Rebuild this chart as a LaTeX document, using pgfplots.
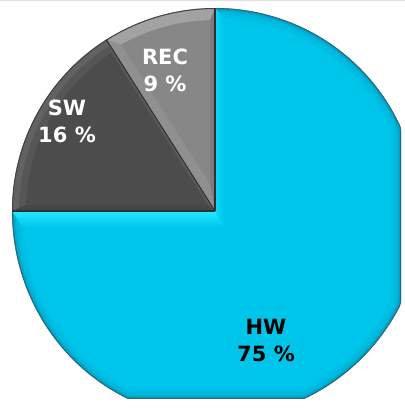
\documentclass[border=0pt]{standalone}
\usepackage{pgfplots}
\usepackage{pgfplotstable}
\usepackage{fontspec}
\setmainfont{DejaVu Sans}
\pgfplotsset{compat=1.18}

% slice colours: base, bevel bands and rim
\definecolor{hwrim}{RGB}{0,150,186}
\definecolor{hwstepA}{RGB}{0,170,207}
\definecolor{hwstepB}{RGB}{0,183,221}
\definecolor{hwstepC}{RGB}{0,191,229}
\definecolor{hwbase}{RGB}{0,197,235}
\definecolor{hwbright}{RGB}{36,234,255}
\definecolor{hwvert}{RGB}{14,216,250}
\definecolor{hwedge}{RGB}{50,105,120}
\definecolor{swband}{RGB}{98,98,98}
\definecolor{swmid}{RGB}{86,86,86}
\definecolor{swbase}{RGB}{76,76,76}
\definecolor{swfloor}{RGB}{70,70,70}
\definecolor{recband}{RGB}{162,162,162}
\definecolor{recbase}{RGB}{135,135,135}
\definecolor{recleft}{RGB}{144,144,144}
\definecolor{recright}{RGB}{124,124,124}
\definecolor{greyedge}{RGB}{66,66,66}
\definecolor{splitline}{RGB}{48,48,48}

\pgfplotstableread{
part share
HW 75
SW 16
REC 9
}\sharetable

% pie outline: radii to the right (upper, lower half), left, up and down,
% and the cut at right and bottom
\def\pieRru{204}\def\pieRrd{208}\def\pieRl{203}\def\pieRu{203}\def\pieRd{208}
\def\pieCx{186}\def\pieCy{188}
\def\pieR{205}

% inner corner and arc angles of a wedge (edges at #1 and #2, clockwise),
% its edges moved inwards by #3 and #4 and its arc by #5
\newcommand\piegeom[5]{%
  \pgfmathsetmacro\nax{cos(#1-90)}\pgfmathsetmacro\nay{sin(#1-90)}%
  \pgfmathsetmacro\nbx{cos(#2+90)}\pgfmathsetmacro\nby{sin(#2+90)}%
  \pgfmathsetmacro\ndet{\nax*\nby-\nay*\nbx}%
  \pgfmathsetmacro\pcx{(#3*\nby-#4*\nay)/\ndet}%
  \pgfmathsetmacro\pcy{(\nax*#4-\nbx*#3)/\ndet}%
  \pgfmathsetmacro\ahi{#1-asin(#3/(\pieR-#5))}%
  \pgfmathsetmacro\alo{#2+asin(#4/(\pieR-#5))}%
}
% filled wedge
\newcommand\pieslice[6]{%
  \piegeom{#1}{#2}{#3}{#4}{#5}%
  \edef\piecmd{\noexpand\addplot[#6, draw=none, domain=\alo:\ahi, samples=160]
    ({px(x,#5)},{py(x,#5)}) -- (axis cs:\pcx,\pcy) -- cycle;}%
  \piecmd}
% bevel band along the first edge of a wedge
\newcommand\piebandhi[6]{%
  \piegeom{#1}{#2}{#3}{#4}{#5}%
  \pgfmathsetmacro\ox{px(#1,0)}\pgfmathsetmacro\oy{py(#1,0)}%
  \pgfmathsetmacro\ix{px(\ahi,#5)}\pgfmathsetmacro\iy{py(\ahi,#5)}%
  \edef\piecmd{\noexpand\addplot[#6, draw=none] coordinates
    {(0,0) (\ox,\oy) (\ix,\iy) (\pcx,\pcy)} -- cycle;}%
  \piecmd}
% bevel band along the second edge of a wedge
\newcommand\piebandlo[6]{%
  \piegeom{#1}{#2}{#3}{#4}{#5}%
  \pgfmathsetmacro\ox{px(#2,0)}\pgfmathsetmacro\oy{py(#2,0)}%
  \pgfmathsetmacro\ix{px(\alo,#5)}\pgfmathsetmacro\iy{py(\alo,#5)}%
  \edef\piecmd{\noexpand\addplot[#6, draw=none] coordinates
    {(0,0) (\ox,\oy) (\ix,\iy) (\pcx,\pcy)} -- cycle;}%
  \piecmd}
% straight edge from the centre out to the rim
\newcommand\piesplit[1]{%
  \pgfmathsetmacro\ox{px(#1,0)}\pgfmathsetmacro\oy{py(#1,0)}%
  \edef\piecmd{\noexpand\addplot[draw=splitline, line width=1.1pt] coordinates
    {(0,0) (\ox,\oy)};}%
  \piecmd}

\begin{document}
\begin{tikzpicture}[
  declare function={
    rx(\t)=\pieRl+(cos(\t)>0)*(\pieRrd-\pieRl+(\pieRru-\pieRrd)*(sin(\t)>0));
    px(\t,\d)=min(cos(\t)*(rx(\t)-\d),\pieCx-\d);
    py(\t,\d)=max(sin(\t)*(\pieRd+(\pieRu-\pieRd)*(sin(\t)>0)-\d),\d-\pieCy);
  }]
\pgfplotstablegetelem{0}{share}\of\sharetable \let\shHW\pgfplotsretval
\pgfplotstablegetelem{1}{share}\of\sharetable \let\shSW\pgfplotsretval
\pgfplotstablegetelem{2}{share}\of\sharetable \let\shREC\pgfplotsretval
% slice edges, clockwise from the top
\pgfmathsetmacro\aA{90}
\pgfmathsetmacro\aB{\aA-3.6*\shHW}
\pgfmathsetmacro\aC{\aB-3.6*\shSW}
\pgfmathsetmacro\aD{\aC-3.6*\shREC}
\begin{axis}[
  hide axis, scale only axis,
  width=405pt, height=408pt,
  xmin=-215, xmax=190, ymin=-197, ymax=211,
]
\addplot[draw=none] coordinates {(-215,-197) (190,211)};
\addplot[draw=black!12, line width=2.4pt] coordinates {(-215,211) (190,211)};

% HW: darker rim fading into the base colour, bright bevels on the straight edges
\pieslice{\aA}{\aB}{0}{0}{0}{fill=hwrim}
\pieslice{\aA}{\aB}{0}{0}{1.5}{fill=hwstepA}
\pieslice{\aA}{\aB}{0}{0}{3.5}{fill=hwstepB}
\pieslice{\aA}{\aB}{0}{0}{6.5}{fill=hwstepC}
\pieslice{\aA}{\aB}{9}{16}{10}{fill=hwbase}
\piebandlo{\aA}{\aB}{9}{16}{10}{top color=hwbright, middle color=hwbright!65!hwbase, bottom color=hwbase}
\piebandhi{\aA}{\aB}{9}{16}{10}{left color=hwvert, right color=hwbase}

% SW
\pieslice{\aB}{\aC}{0}{0}{0}{fill=swband}
\pieslice{\aB}{\aC}{1.5}{1.5}{7}{fill=swmid}
\piebandhi{\aB}{\aC}{6}{3}{14}{fill=swfloor}
\pieslice{\aB}{\aC}{6}{3}{14}{fill=swbase}

% REC
\pieslice{\aC}{\aD}{0}{0}{0}{fill=recband}
\piebandhi{\aC}{\aD}{10}{5}{12}{fill=recleft}
\piebandlo{\aC}{\aD}{10}{5}{12}{fill=recright}
\pieslice{\aC}{\aD}{10}{5}{12}{fill=recbase}

% rim and slice borders
\addplot[draw=hwedge, line width=1pt, domain=\aB:\aA, samples=240] ({px(x,0.5)},{py(x,0.5)});
\addplot[draw=greyedge, line width=1pt, domain=\aD:\aB, samples=80] ({px(x,0.5)},{py(x,0.5)});
\piesplit{\aA}
\piesplit{\aB}
\piesplit{\aC}

% labels
\node[align=center, font=\fontsize{21}{27}\selectfont\bfseries, text=black]
  at (axis cs:51,-129) {HW\\75 \%};
\node[align=center, font=\fontsize{21}{27}\selectfont\bfseries, text=white]
  at (axis cs:-148,90) {SW\\16 \%};
\node[align=center, font=\fontsize{21}{27}\selectfont\bfseries, text=white]
  at (axis cs:-50,141) {REC\\9 \%};
\end{axis}
\end{tikzpicture}
\end{document}
